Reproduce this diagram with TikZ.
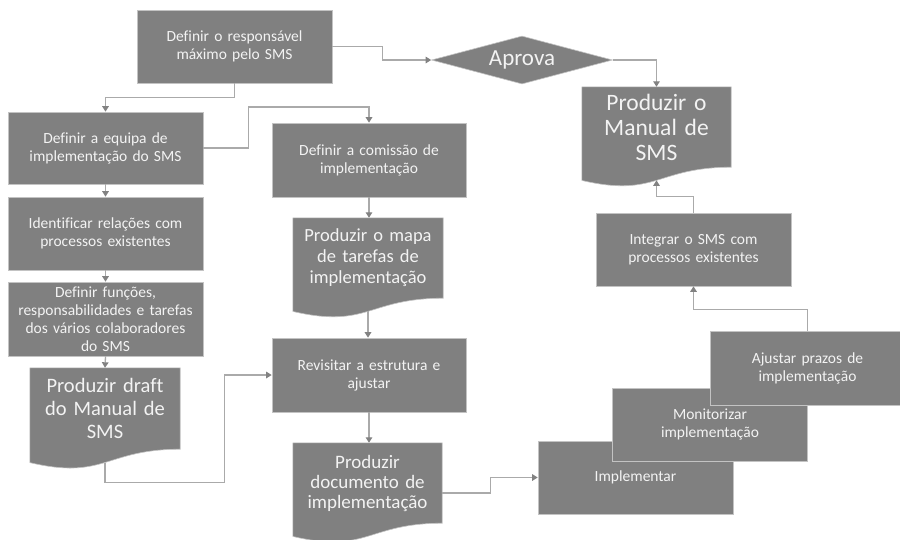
\documentclass[tikz,border=0pt]{standalone}
\usepackage{fontspec}
\setmainfont{Carlito}[Ligatures=NoCommon]
\usetikzlibrary{shapes.geometric,arrows.meta,calc}

\definecolor{boxgray}{RGB}{128,128,128}
\definecolor{edgegray}{RGB}{195,195,195}
\definecolor{linegray}{RGB}{170,170,170}
\definecolor{tipgray}{RGB}{130,130,130}
\definecolor{txt}{RGB}{243,243,243}

\pgfdeclarelayer{background}
\pgfsetlayers{background,main}

\tikzset{
  stepbox/.style={rectangle, fill=boxgray, draw=edgegray, line width=0.6pt,
    minimum width=195pt, minimum height=73pt, inner sep=0pt,
    text width=188pt, align=center, text=txt,
    font=\fontsize{15.5}{18}\selectfont},
  docnode/.style={rectangle, inner sep=0pt, minimum width=150pt,
    minimum height=80pt, text width=146pt, align=center, text=txt},
  docfill/.style={fill=boxgray, draw=edgegray, line width=0.6pt},
  decision/.style={diamond, shape aspect=3.77, fill=boxgray, draw=edgegray,
    line width=0.6pt, minimum width=181pt, minimum height=48pt, inner sep=0pt,
    text=txt, font=\fontsize{23}{26}\selectfont},
  conn/.style={draw=linegray, line width=1.3pt,
    -{Triangle[width=6.5pt,length=5.5pt,color=tipgray]}},
}

% Document symbol: flat top, wavy bottom hanging below the text node
\newcommand\docshape[1]{%
  \path[docfill] (#1.north west) -- (#1.north east) -- (#1.south east)
    .. controls (#1.south) and ($(#1.north)!1.381!(#1.south)$)
    .. ($(#1.north west)!1.1646!(#1.south west)$) -- cycle;
  \coordinate (#1-b) at ($(#1.north)!1.1633!(#1.south)$);
  \coordinate (#1-e) at ($(#1.north east)!0.6235!(#1.south east)$);
}

\begin{document}
\begin{tikzpicture}[x=1pt, y=-1pt]
\useasboundingbox (0,0) rectangle (900,539);

% left column
\node[stepbox] (b1) at (234.5,46.5) {Definir o responsável\\máximo pelo SMS};
\node[stepbox, minimum height=72pt] (b2) at (105.5,148) {Definir a equipa de\\implementação do SMS};
\node[stepbox] (b3) at (105.5,233.5) {Identificar relações com\\processos existentes};
\node[stepbox, minimum height=74pt] (b4) at (105.5,319) {Definir funções,\\responsabilidades e tarefas\\dos vários colaboradores\\do SMS};
\node[docnode, minimum height=81pt, font=\fontsize{20.5}{23}\selectfont] (d5) at (105,408.5) {Produzir draft\\do Manual de\\SMS};

% middle column
\node[stepbox, minimum width=194pt, minimum height=74pt] (bcom) at (369,160) {Definir a comissão de\\implementação};
\node[docnode, font=\fontsize{18.5}{21}\selectfont] (d6) at (368,258) {Produzir o mapa\\de tarefas de\\implementação};
\node[stepbox, minimum width=194pt, minimum height=74pt] (brev) at (369,375) {Revisitar a estrutura e\\ajustar};
\node[docnode, minimum width=149pt, font=\fontsize{19}{20}\selectfont] (d7) at (367.5,483) {Produzir\\documento de\\implementação};

% decision and manual
\node[decision] (ap) at (522,60) {Aprova};
\node[docnode, minimum width=149pt, font=\fontsize{23.5}{25}\selectfont] (dM) at (656.5,127) {Produzir o\\Manual de\\SMS};

% right side
\node[stepbox] (integ) at (693.5,249.5) {Integrar o SMS com\\processos existentes};
\node[stepbox] (impl) at (635.5,477.5) {Implementar};
\node[stepbox] (mon) at (710,424.5) {Monitorizar\\implementação};
\node[stepbox, minimum height=74pt] (ajust) at (807.5,368) {Ajustar prazos de\\implementação};

\begin{pgfonlayer}{background}
  \docshape{d5}
  \docshape{d6}
  \docshape{d7}
  \docshape{dM}
\end{pgfonlayer}

% connectors
\draw[conn] (b1.south) -- ++(0,14) -| (b2.north);
\draw[conn] (b1.east) -- ++(50,0) |- (ap.west);
\draw[conn] (ap.east) -| (dM.north);
\draw[conn] (b2.south) -- (b3.north);
\draw[conn] (b3.south) -- (b4.north);
\draw[conn] (b4.south) -- (d5.north);
\draw[conn] (b2.east) -- ++(45,0) -- ++(0,-41) -| (bcom.north);
\draw[conn] (bcom.south) -- (bcom.south |- d6.north);
\draw[conn] (d6-b) -- (d6-b |- brev.north);
\draw[conn] (d5-b) -- ++(0,20) -| ($(brev.west)+(-47,0)$) -- (brev.west);
\draw[conn] (brev.south) -- (brev.south |- d7.north);
\draw[conn] (d7-e) -- ++(48,0) |- (impl.west);
\draw[conn] (ajust.north) -- ++(0,-21) -| (integ.south);
\draw[conn] (integ.north) -- ++(0,-16) -| (dM-b);
\end{tikzpicture}
\end{document}
